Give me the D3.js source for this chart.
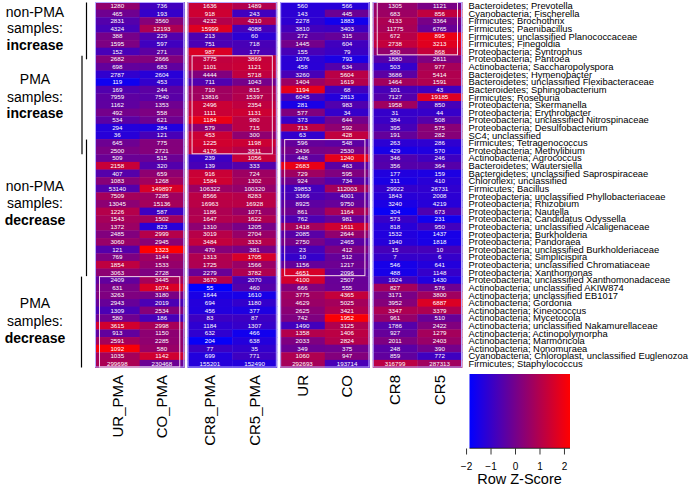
<!DOCTYPE html>
<html>
<head>
<meta charset="utf-8">
<script src="https://cdn.jsdelivr.net/npm/d3@7"></script>
<style>
  html, body { margin: 0; padding: 0; background: #fff; }
  svg { display: block; font-family: "Liberation Sans", Arial, Helvetica, sans-serif; }
</style>
</head>
<body>
<svg id="chart" width="693" height="487"></svg>
<script>
// ---------------- DATA ----------------
const rowLabels = [
  "Bacteroidetes; Prevotella",
  "Cyanobacteria; Fischerella",
  "Firmicutes; Brochothrix",
  "Firmicutes; Paenibacillus",
  "Firmicutes; unclassified Planococcaceae",
  "Firmicutes; Finegoldia",
  "Proteobacteria; Syntrophus",
  "Proteobacteria; Pantoea",
  "Actinobacteria; Saccharopolyspora",
  "Bacteroidetes; Hymenobacter",
  "Bacteroidetes; unclassified Flexibacteraceae",
  "Bacteroidetes; Sphingobacterium",
  "Firmicutes; Roseburia",
  "Proteobacteria; Skermanella",
  "Proteobacteria; Erythrobacter",
  "Proteobacteria; unclassified Nitrospinaceae",
  "Proteobacteria; Desulfobacterium",
  "SC4; unclassified",
  "Firmicutes; Tetragenococcus",
  "Proteobacteria; Methylibium",
  "Actinobacteria; Agrococcus",
  "Bacteroidetes; Wautersiella",
  "Bacteroidetes; unclassified Saprospiraceae",
  "Chloroflexi; unclassified",
  "Firmicutes; Bacillus",
  "Proteobacteria; unclassified Phyllobacteriaceae",
  "Proteobacteria; Rhizobium",
  "Proteobacteria; Nautella",
  "Proteobacteria; Candidatus Odyssella",
  "Proteobacteria; unclassified Alcaligenaceae",
  "Proteobacteria; Burkholderia",
  "Proteobacteria; Pandoraea",
  "Proteobacteria; unclassified Burkholderiaceae",
  "Proteobacteria; Simplicispira",
  "Proteobacteria; unclassified Chromatiaceae",
  "Proteobacteria; Xanthomonas",
  "Proteobacteria; unclassified Xanthomonadaceae",
  "Actinobacteria; unclassified AKIW874",
  "Actinobacteria; unclassified EB1017",
  "Actinobacteria; Gordonia",
  "Actinobacteria; Kineococcus",
  "Actinobacteria; Mycetocola",
  "Actinobacteria; unclassified Nakamurellaceae",
  "Actinobacteria; Actinopolymorpha",
  "Actinobacteria; Marmoricola",
  "Actinobacteria; Nonomuraea",
  "Cyanobacteria; Chloroplast, unclassified Euglenozoa",
  "Firmicutes; Staphylococcus"
];

const colLabels = ["UR_PMA", "CO_PMA", "CR8_PMA", "CR5_PMA", "UR", "CO", "CR8", "CR5"];

const urPMA = [1280,465,2831,4324,388,1595,152,2682,698,2787,119,169,7959,1162,492,534,294,36,645,2500,509,2158,407,1083,
  53140,7509,13045,1226,1543,1372,2485,3060,121,769,1854,3063,2409,631,3263,2943,1309,580,3615,913,2591,1092,1035,299698];
const coPMA = [736,193,3560,12193,229,597,271,2666,683,2604,453,244,7540,1353,558,621,284,121,775,2721,515,320,659,1268,
  149897,7285,15136,587,1502,823,2999,2945,1323,1144,1533,2728,3445,1074,3180,2019,2534,186,2998,1150,2285,580,1142,230468];
const cr8PMA = [1636,918,4232,15999,213,751,987,3775,1101,4444,711,710,13816,2496,1111,1184,579,453,1225,4176,239,139,916,1584,
  106322,8566,16963,1186,1647,1310,3019,3484,470,1313,1725,2279,3670,55,1644,694,456,83,1184,632,204,77,699,155201];
const cr5PMA = [1489,243,4210,4088,60,718,177,3869,1121,5718,1043,815,15397,2354,1131,980,715,300,1198,3811,1056,333,724,1302,
  100320,8283,16928,1071,1622,1205,2704,3333,381,1705,1566,3782,2070,460,1610,1180,377,87,1307,466,638,35,771,152490];
const ur = [560,143,2278,3810,272,1445,155,1076,458,3260,1404,1194,6045,281,577,373,713,63,596,2436,448,2683,729,924,
  39853,3366,8925,861,762,1418,2085,2750,23,10,1156,4651,4100,666,3775,4629,2625,742,1490,1358,2033,349,1060,292693];
const co = [566,445,1883,3403,315,604,79,793,634,5604,1619,68,2813,983,34,644,592,428,548,2530,1240,463,595,734,
  112003,4001,9750,1164,981,1611,2644,2465,412,512,1217,2096,2507,555,4365,5025,3421,1952,3125,1406,2824,375,947,193714];
const cr8 = [1305,683,4133,11775,672,2738,580,1880,503,3686,1464,101,7127,1958,31,384,395,191,263,429,346,356,177,311,
  29922,1843,3240,304,573,818,1532,1940,15,7,546,488,1924,827,3171,3952,3347,961,1786,927,2011,248,859,316799];
const cr5 = [1121,856,3364,6765,895,3213,868,2611,977,5414,1591,43,19185,850,44,508,575,282,286,570,246,364,159,410,
  26731,2008,4219,673,231,950,1437,1818,10,6,641,1148,1430,576,3800,6887,3379,510,2422,1279,2403,390,772,287313];

// annotation groups on the left (first row, last row, 1-based)
const annotText = [
  ["non-PMA", "samples:", "increase"],
  ["PMA", "samples:", "increase"],
  ["non-PMA", "samples:", "decrease"],
  ["PMA", "samples:", "decrease"]
];
const annotRows = [[1, 7], [8, 20], [19, 36], [37, 48]];
// highlighted block: column group index for each annotation group
const highlightGroup = [3, 1, 2, 0];

const keyTicks = [-2, -1, 0, 1, 2];
const keyTitle = "Row Z-Score";

// ---------------- LAYOUT ----------------
const svg = d3.select("#chart");
const columns = [urPMA, coPMA, cr8PMA, cr5PMA, ur, co, cr8, cr5];
const nRows = rowLabels.length;

const groupScale = d3.scaleBand().domain([0, 1, 2, 3]).range([95, 462]).paddingInner(0.036);
const colInGroup = d3.scaleBand().domain([0, 1]).range([0, groupScale.bandwidth()]);
const colX = i => groupScale(Math.floor(i / 2)) + colInGroup(i % 2);
const colW = colInGroup.bandwidth();

const y = d3.scaleBand().domain(d3.range(nRows)).range([2, 367.5]);

// z-scores per row (sample sd)
const z = [];
for (let r = 0; r < nRows; r++) {
  const vals = columns.map(c => c[r]);
  const m = d3.mean(vals), s = d3.deviation(vals);
  z.push(vals.map(v => (v - m) / s));
}
const zExt = d3.extent(z.flat());
const color = d3.scaleLinear().domain(zExt).range(["#0000ff", "#ff0000"]).interpolate(d3.interpolateRgb);

// cells
const cells = [];
for (let r = 0; r < nRows; r++) for (let c = 0; c < 8; c++) cells.push({ r, c, v: columns[c][r], z: z[r][c] });

svg.append("g").selectAll("rect").data(cells).join("rect")
  .attr("x", d => colX(d.c))
  .attr("y", d => y(d.r))
  .attr("width", colW + 0.4)
  .attr("height", y.bandwidth() + 0.4)
  .attr("fill", d => color(d.z));

svg.append("g").selectAll("text").data(cells).join("text")
  .attr("x", d => colX(d.c) + colW / 2)
  .attr("y", d => y(d.r) + y.bandwidth() / 2)
  .attr("dy", "0.36em")
  .attr("text-anchor", "middle")
  .attr("font-size", "6.2px")
  .attr("fill", "#ffffff")
  .text(d => d.v);

// group outlines
svg.append("g").selectAll("rect").data([0, 1, 2, 3]).join("rect")
  .attr("x", g => groupScale(g) + 0.5)
  .attr("y", 2.5)
  .attr("width", groupScale.bandwidth() - 1)
  .attr("height", 364.5)
  .attr("fill", "none")
  .attr("stroke", "#b7a8ff")
  .attr("stroke-width", 1);

// highlight boxes
svg.append("g").selectAll("rect").data(annotRows).join("rect")
  .attr("x", (d, i) => groupScale(highlightGroup[i]) + 4.5)
  .attr("y", d => y(d[0] - 1) + 0.5)
  .attr("width", groupScale.bandwidth() - 9)
  .attr("height", d => y(d[1] - 1) + y.bandwidth() - y(d[0] - 1) - 1)
  .attr("fill", "none")
  .attr("stroke", "#f3d3e6")
  .attr("stroke-width", 1);

// row labels
svg.append("g").selectAll("text").data(rowLabels).join("text")
  .attr("x", 468.5)
  .attr("y", (d, i) => y(i) + y.bandwidth() / 2)
  .attr("dy", "0.36em")
  .attr("font-size", "9.4px")
  .attr("fill", "#000")
  .text(d => d);

// column labels
svg.append("g").selectAll("text").data(colLabels).join("text")
  .attr("transform", (d, i) => `translate(${colX(i) + colW / 2 + 5.3},375) rotate(-90)`)
  .attr("text-anchor", "end")
  .attr("font-size", "15px")
  .attr("fill", "#000")
  .text(d => d);

// left annotations
const lineX = [86.5, 82, 86.5, 81.5];
const lineExtend = [4, 0, 0, 0];
const annotY = [[11.7, 28.3, 45], [79.3, 96.7, 113.3], [186, 203.3, 220], [303.3, 320.7, 337.7]];
annotRows.forEach((rr, i) => {
  svg.append("line")
    .attr("x1", lineX[i]).attr("x2", lineX[i])
    .attr("y1", y(rr[0] - 1) + 0.5)
    .attr("y2", y(rr[1] - 1) + y.bandwidth() + lineExtend[i])
    .attr("stroke", "#000").attr("stroke-width", 1.2);
  annotText[i].forEach((t, j) => {
    svg.append("text")
      .attr("x", 35).attr("y", annotY[i][j])
      .attr("dy", "0.36em")
      .attr("text-anchor", "middle")
      .attr("font-size", "14px")
      .attr("font-weight", j === 2 ? "bold" : "normal")
      .attr("fill", "#000")
      .text(t);
  });
});

// color key
const keyX = d3.scaleLinear().domain(zExt).range([469.5, 570]);
const defs = svg.append("defs");
const grad = defs.append("linearGradient").attr("id", "kg").attr("x1", "0%").attr("x2", "100%");
d3.range(0, 1.0001, 0.1).forEach(t => {
  grad.append("stop").attr("offset", (t * 100) + "%").attr("stop-color", color(zExt[0] + t * (zExt[1] - zExt[0])));
});
svg.append("rect").attr("x", 469.5).attr("y", 374).attr("width", 100.5).attr("height", 74)
  .attr("fill", "url(#kg)");
svg.append("line").attr("x1", 469.5).attr("x2", 570).attr("y1", 448.3).attr("y2", 448.3)
  .attr("stroke", "#000").attr("stroke-width", 0.8);
const keyAxis = svg.append("g");
keyAxis.selectAll("line").data(keyTicks).join("line")
  .attr("x1", d => keyX(d)).attr("x2", d => keyX(d))
  .attr("y1", 448.5).attr("y2", 454.5)
  .attr("stroke", "#000").attr("stroke-width", 0.8);
keyAxis.selectAll("text").data(keyTicks).join("text")
  .attr("x", d => keyX(d)).attr("y", 466)
  .attr("dy", "0.36em")
  .attr("text-anchor", "middle")
  .attr("font-size", "10px")
  .text(d => d < 0 ? "\u2212" + Math.abs(d) : d);
svg.append("text").attr("x", 519.5).attr("y", 483.5)
  .attr("text-anchor", "middle")
  .attr("font-size", "14.5px")
  .text(keyTitle);
</script>
</body>
</html>
